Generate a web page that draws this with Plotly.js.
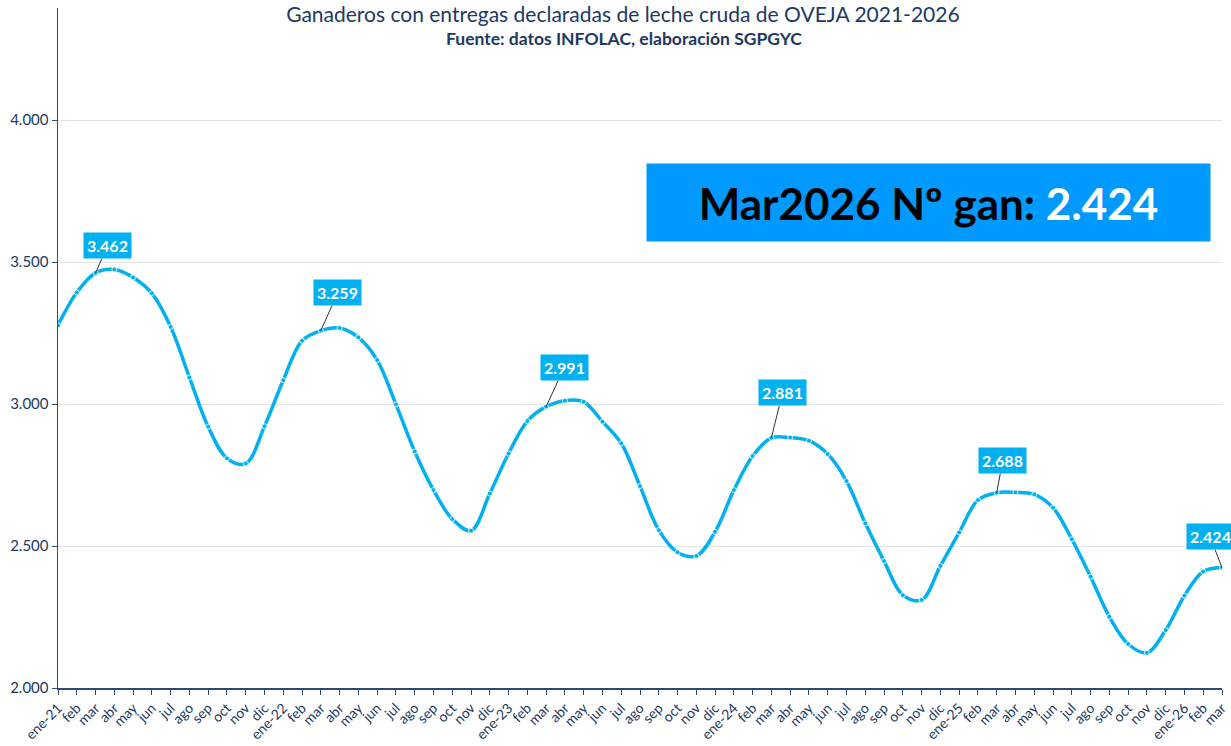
<!DOCTYPE html>
<html>
<head>
<meta charset="utf-8">
<script src="https://cdn.plot.ly/plotly-3.0.1.min.js"></script>
<style>html,body{margin:0;padding:0;background:#fff;}#chart{width:1231px;height:746px;}</style>
</head>
<body>
<div id="chart"></div>
<script>
const tickLabels = ["ene-21","feb","mar","abr","may","jun","jul","ago","sep","oct","nov","dic",
  "ene-22","feb","mar","abr","may","jun","jul","ago","sep","oct","nov","dic",
  "ene-23","feb","mar","abr","may","jun","jul","ago","sep","oct","nov","dic",
  "ene-24","feb","mar","abr","may","jun","jul","ago","sep","oct","nov","dic",
  "ene-25","feb","mar","abr","may","jun","jul","ago","sep","oct","nov","dic",
  "ene-26","feb","mar"];
const ganaderos = [3278,3393,3462,3474,3446,3390,3272,3094,2920,2809,2791,2922,
  3084,3223,3259,3268,3235,3155,2999,2833,2697,2595,2554,2685,
  2826,2940,2991,3012,3008,2938,2862,2711,2556,2478,2465,2550,
  2697,2817,2881,2882,2871,2824,2729,2580,2447,2327,2310,2430,
  2548,2662,2688,2689,2682,2635,2524,2392,2251,2155,2124,2204,
  2325,2410,2424];
// labelled points: index and label offset (pixels)
const labelIdx = [2,14,26,38,50,62];
const labelOffX = [12,17,18,11,6,-12];
const labelOffY = [-27,-38,-39,-45,-32,-31];
const titleText = "Ganaderos con entregas declaradas de leche cruda de OVEJA 2021-2026";
const subtitleText = "Fuente: datos INFOLAC, elaboración SGPGYC";

const xIdx = ganaderos.map((_, i) => i);
const fmt = v => v.toLocaleString('de-DE');
const navy = '#203864';
const lineBlue = '#00B0F0';
const font = 'Lato, "Open Sans", sans-serif';

const annotations = labelIdx.map((idx, k) => ({
  x: idx, y: ganaderos[idx], xref: 'x', yref: 'y',
  text: '<b>' + fmt(ganaderos[idx]) + '</b>',
  showarrow: true, arrowhead: 0, arrowwidth: 1, arrowcolor: '#333333',
  ax: labelOffX[k], ay: labelOffY[k], standoff: 0,
  bgcolor: lineBlue, borderpad: 3,
  font: {family: font, size: 16, color: '#ffffff'}
}));

const last = ganaderos[ganaderos.length - 1];
const lastLabel = tickLabels[tickLabels.length - 1];
annotations.push({
  xref: 'paper', yref: 'paper',
  x: (928.5 - 58) / (1222 - 58), y: (688 - 202.5) / (688 - 8),
  xanchor: 'center', yanchor: 'middle',
  text: '<b>' + lastLabel.charAt(0).toUpperCase() + lastLabel.slice(1) + '2026 Nº gan: <span style="color:#ffffff">' + fmt(last) + '</span></b>',
  showarrow: false, bgcolor: '#0099FF', width: 561, height: 75, borderpad: 1,
  font: {family: font, size: 44, color: '#000000'}
});
annotations.push({
  xref: 'paper', yref: 'paper',
  x: (624 - 58) / (1222 - 58), y: (688 - 39) / (688 - 8),
  xanchor: 'center', yanchor: 'middle',
  text: '<b>' + subtitleText + '</b>', showarrow: false,
  font: {family: font, size: 17.5, color: navy}
});

const trace = {
  x: xIdx, y: ganaderos, type: 'scatter', mode: 'lines+markers',
  line: {color: lineBlue, width: 3.5, shape: 'spline', smoothing: 1},
  marker: {size: 5, color: lineBlue, line: {color: 'rgba(255,255,255,0.85)', width: 1}},
  hoverinfo: 'skip'
};

const layout = {
  width: 1231, height: 746,
  margin: {l: 58, r: 9, t: 8, b: 58},
  paper_bgcolor: '#ffffff', plot_bgcolor: '#ffffff',
  separators: ',.',
  showlegend: false,
  title: {text: titleText, x: 0.506, xanchor: 'center', y: 1 - 15/746, yanchor: 'middle',
    font: {family: font, size: 21, color: navy}},
  xaxis: {
    range: [0, 62], tickmode: 'array', tickvals: xIdx, ticktext: tickLabels,
    tickangle: -45, ticks: 'outside', ticklen: 5, tickcolor: '#2F4A7A',
    showline: true, linecolor: '#2F4A7A', linewidth: 1.5,
    showgrid: false, zeroline: false,
    tickfont: {family: font, size: 14, color: navy}
  },
  yaxis: {
    range: [2000, 4395], dtick: 500, tick0: 2000, tickformat: ',d',
    ticks: 'outside', ticklen: 5, tickcolor: '#2F4A7A',
    showline: true, linecolor: '#2F4A7A', linewidth: 1.5,
    gridcolor: '#E3E3E3', gridwidth: 1, zeroline: false,
    tickfont: {family: font, size: 15, color: navy}
  },
  annotations: annotations
};

Plotly.newPlot('chart', [trace], layout, {displayModeBar: false, staticPlot: true});
</script>
</body>
</html>
